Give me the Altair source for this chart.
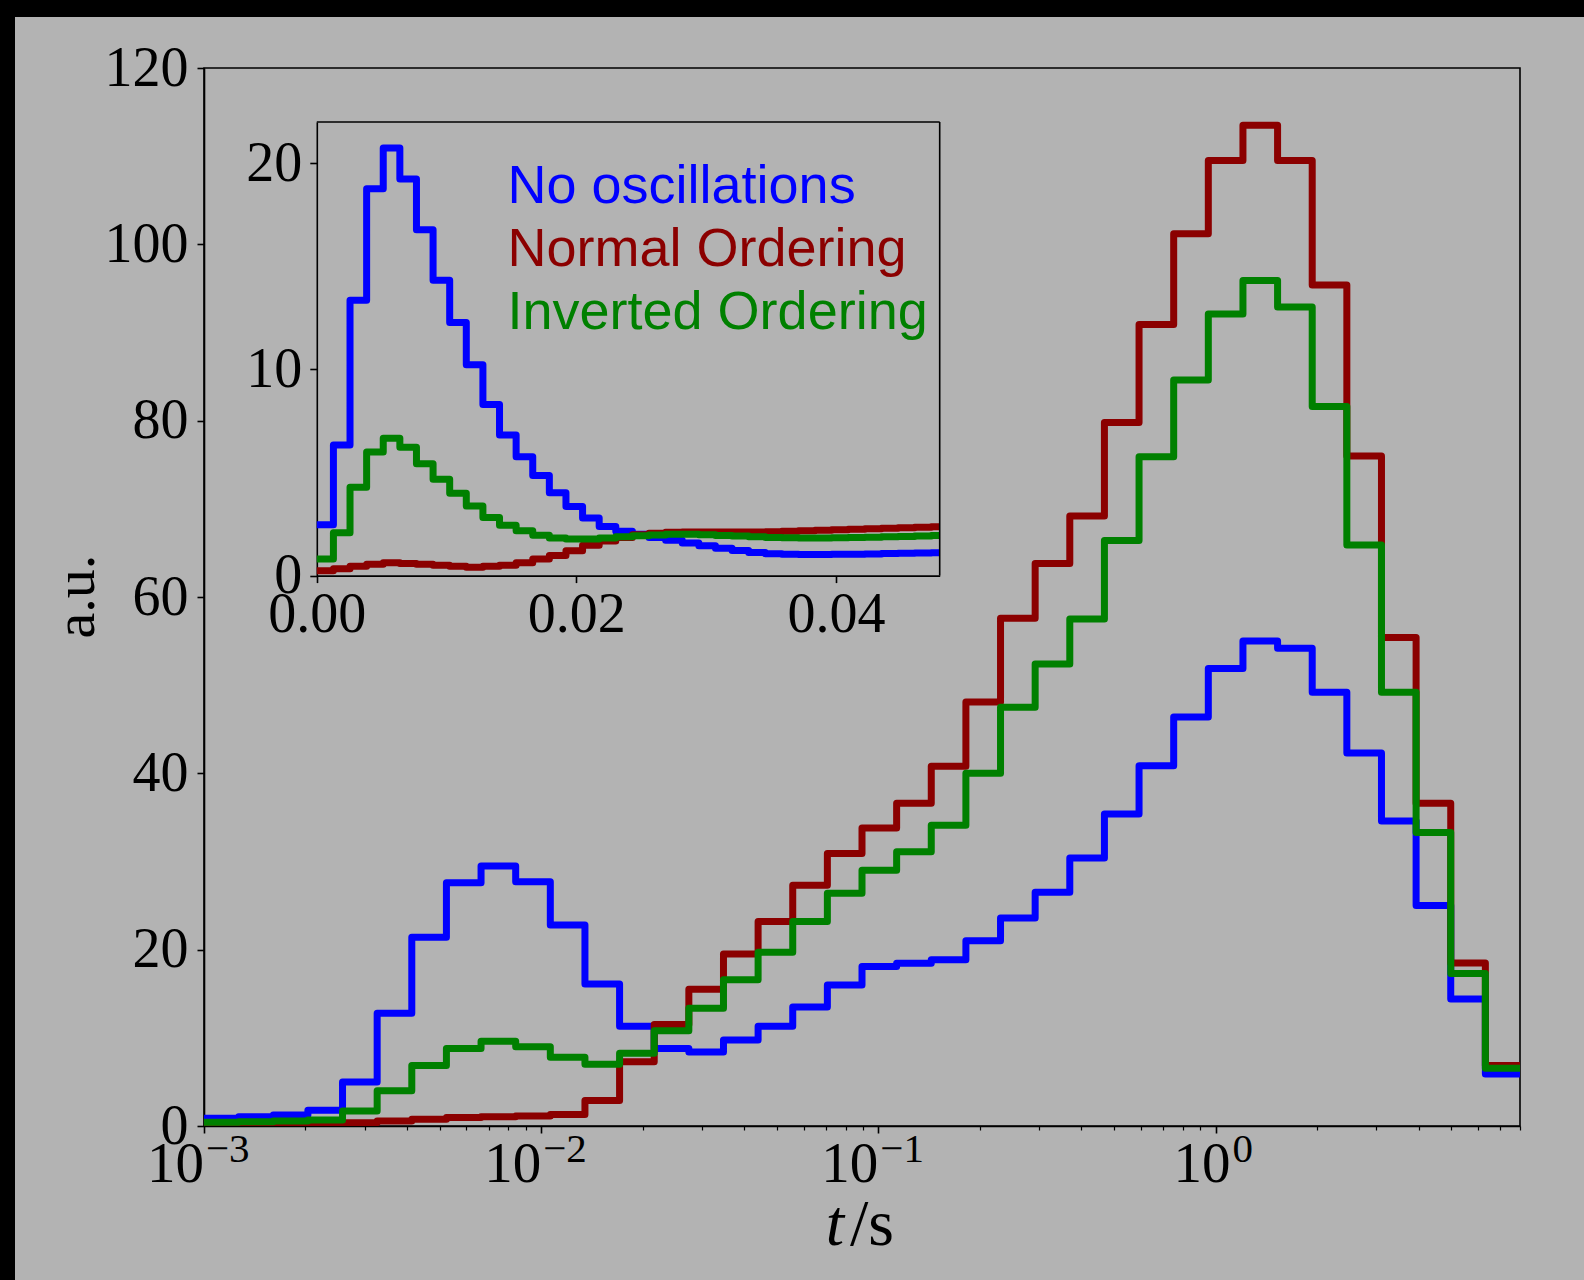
import numpy as np
import pandas as pd
import altair as alt

# ---------------- data ----------------
SERIES = ["No oscillations", "Normal Ordering", "Inverted Ordering"]
COLORS = ["#0000ff", "#8b0000", "#008000"]

# main panel: 38 log-spaced bins between 1e-3 s and 8 s
T_MIN, T_MAX = 1e-3, 8.0
N_MAIN = 38
main_no_osc = [0.87, 1.06, 1.25, 1.8, 5.0, 12.8, 21.4, 27.6, 29.5, 27.7, 22.8, 16.1,
               11.3, 8.8, 8.4, 9.75, 11.3, 13.5, 16.0, 18.1, 18.45, 18.85, 21.0, 23.6,
               26.5, 30.4, 35.4, 40.85, 46.4, 51.9, 55.0, 54.2, 49.2, 42.3, 34.6, 25.0,
               14.4, 5.9]
main_normal = [0.05, 0.08, 0.12, 0.2, 0.38, 0.57, 0.76, 0.95, 1.06, 1.13, 1.3, 2.9,
               7.3, 11.5, 15.5, 19.5, 23.2, 27.3, 30.9, 33.8, 36.6, 40.8, 48.1, 57.6,
               63.8, 69.2, 79.8, 90.9, 101.2, 109.5, 113.5, 109.5, 95.4, 76.0, 55.4, 36.6,
               18.5, 6.85]
main_inverted = [0.42, 0.49, 0.57, 0.68, 1.7, 4.0, 6.85, 8.8, 9.6, 9.0, 7.8, 7.0,
                 8.25, 10.8, 13.35, 16.6, 19.7, 23.2, 26.4, 29.0, 31.1, 34.1, 40.0, 47.5,
                 52.4, 57.5, 66.4, 75.9, 84.6, 92.1, 95.9, 92.9, 81.6, 65.9, 49.2, 33.3,
                 17.3, 6.55]

# inset: linear bins of 1.28 ms, shown up to 0.048 s
INSET_BIN = 0.00128
INSET_XMAX = 0.048
INSET_YMAX = 22
inset_no_osc = [2.47, 6.34, 13.35, 18.76, 20.74, 19.24, 16.78, 14.32, 12.28, 10.23, 8.3, 6.82,
                5.76, 4.85, 4.02, 3.35, 2.79, 2.38, 2.15, 2.0, 1.85, 1.72, 1.58, 1.45,
                1.33, 1.22, 1.12, 1.06, 1.03, 1.02, 1.02, 1.03, 1.04, 1.05, 1.07, 1.08,
                1.1, 1.11]
inset_normal = [0.24, 0.33, 0.45, 0.55, 0.62, 0.59, 0.55, 0.5, 0.45, 0.41, 0.45, 0.5,
                0.62, 0.8, 0.97, 1.2, 1.47, 1.68, 1.85, 1.98, 2.06, 2.1, 2.12, 2.12,
                2.12, 2.12, 2.12, 2.13, 2.15, 2.17, 2.2, 2.22, 2.25, 2.27, 2.3, 2.32,
                2.34, 2.37]
inset_inverted = [0.81, 2.08, 4.29, 5.99, 6.66, 6.22, 5.43, 4.67, 3.99, 3.37, 2.82, 2.44,
                  2.17, 1.96, 1.82, 1.77, 1.77, 1.82, 1.88, 1.93, 1.97, 2.0, 2.0, 1.98,
                  1.95, 1.92, 1.88, 1.85, 1.83, 1.82, 1.82, 1.83, 1.85, 1.86, 1.88, 1.9,
                  1.92, 1.94]

MAJOR = [0.001, 0.01, 0.1, 1.0]
EXPONENTS = ["\u22123", "\u22122", "\u22121", "0"]
MAIN_YTICKS = [0, 20, 40, 60, 80, 100, 120]
INSET_XTICKS = [0.0, 0.02, 0.04]
INSET_YTICKS = [0, 10, 20]

# ---------------- layout ----------------
W, H = 1316, 1058          # main plot area
PX0, PY0 = 204, 68         # plot area origin on the page
FULL_W, FULL_H = 1584, 1280
IN_X0, IN_X1 = 316.8 - PX0, 939.7 - PX0
IN_YB, IN_YT = 575.6 - PY0, 122.0 - PY0
SERIF = "Liberation Serif"
SANS = "Liberation Sans"
LW = 7

main_edges = np.logspace(np.log10(T_MIN), np.log10(T_MAX), N_MAIN + 1)
inset_edges = [min(k * INSET_BIN, INSET_XMAX) for k in range(len(inset_no_osc) + 1)]


def step_frame(edges, vals, xname, yname):
    return pd.DataFrame({xname: list(edges), yname: list(vals) + [vals[-1]]})


major_test = " || ".join(f"datum.value == {m}" for m in MAJOR)
x_ticks = []
for d in range(-3, 1):
    for m in range(1, 10):
        v = round(m * 10.0 ** d, 6)
        if v <= T_MAX:
            x_ticks.append(v)

xmain = alt.X(
    "t:Q",
    scale=alt.Scale(type="log", domain=[T_MIN, T_MAX], nice=False),
    axis=alt.Axis(values=x_ticks, labels=False, title=None, grid=False,
                  tickSize={"condition": {"test": major_test, "value": 7}, "value": 4},
                  tickWidth={"condition": {"test": major_test, "value": 1.6}, "value": 1.2},
                  tickColor="black", domainColor="black", domainWidth=1.6),
)
ymain = alt.Y(
    "v:Q",
    scale=alt.Scale(domain=[0, 120], nice=False),
    axis=alt.Axis(values=MAIN_YTICKS, title="a.u.", grid=False, labelFont=SERIF,
                  labelFontSize=56, labelColor="black", labelPadding=9, tickSize=7,
                  tickWidth=1.6, tickColor="black", domainColor="black", domainWidth=1.6,
                  labelFlush=False, labelOverlap=False, titleFont=SERIF, titleFontSize=58,
                  titleFontWeight="normal", titleColor="black", titleAngle=270,
                  titleAlign="center", titleBaseline="alphabetic", titleX=-111,
                  titleY=528),
)

main_layers = []
# dark frame strips of the figure (top and left)
strip = pd.DataFrame({"k": [0]})
main_layers.append(alt.Chart(strip).mark_rect(color="black").encode(
    x=alt.value(-PX0), x2=alt.value(-PX0 + 15), y=alt.value(-PY0), y2=alt.value(FULL_H - PY0)))
main_layers.append(alt.Chart(strip).mark_rect(color="black").encode(
    x=alt.value(-PX0), x2=alt.value(FULL_W - PX0), y=alt.value(-PY0), y2=alt.value(-PY0 + 17)))

for vals, col in zip([main_no_osc, main_normal, main_inverted], COLORS):
    df = step_frame(main_edges, vals, "t", "v")
    main_layers.append(alt.Chart(df).mark_line(
        interpolate="step-after", color=col, strokeWidth=LW, strokeJoin="round", clip=True
    ).encode(x=xmain, y=ymain))

# x tick labels 10^k
neg = pd.DataFrame({"t": MAJOR[:3], "base": ["10"] * 3, "exp": EXPONENTS[:3]})
zer = pd.DataFrame({"t": MAJOR[3:], "base": ["10"], "exp": EXPONENTS[3:]})
for df, dxb, dxe in [(neg, 0, 2), (zer, 15, 17)]:
    main_layers.append(alt.Chart(df).mark_text(
        align="right", baseline="alphabetic", font=SERIF, fontSize=57, color="black", dx=dxb
    ).encode(x=alt.X("t:Q"), y=alt.value(1182 - PY0), text="base:N"))
    main_layers.append(alt.Chart(df).mark_text(
        align="left", baseline="alphabetic", font=SERIF, fontSize=41, color="black", dx=dxe
    ).encode(x=alt.X("t:Q"), y=alt.value(1162 - PY0), text="exp:N"))

# x axis title  t/s
main_layers.append(alt.Chart(strip).mark_text(
    align="right", baseline="alphabetic", font=SERIF, fontSize=66, fontStyle="italic",
    color="black", text="t").encode(x=alt.value(844 - PX0), y=alt.value(1245 - PY0)))
main_layers.append(alt.Chart(strip).mark_text(
    align="left", baseline="alphabetic", font=SERIF, fontSize=66, color="black",
    text="/s").encode(x=alt.value(850 - PX0), y=alt.value(1245 - PY0)))

# legend labels
for i, (lab, col) in enumerate(zip(SERIES, COLORS)):
    main_layers.append(alt.Chart(strip).mark_text(
        align="left", baseline="alphabetic", font=SANS, fontSize=54, color=col, text=lab
    ).encode(x=alt.value(507.5 - PX0), y=alt.value(202.6 - PY0 + i * 63.4)))

main = alt.layer(*main_layers)

# ---------------- inset ----------------
xin = alt.X(
    "ti:Q",
    scale=alt.Scale(domain=[0, INSET_XMAX], range=[IN_X0, IN_X1], nice=False, zero=False),
    axis=alt.Axis(orient="bottom", offset=IN_YB - H, values=INSET_XTICKS, format=".2f",
                  title=None, grid=False, labelFont=SERIF, labelFontSize=56,
                  labelColor="black", labelBaseline="alphabetic", labelPadding=49,
                  labelFlush=False, labelOverlap=False, tickSize=7, tickWidth=1.6,
                  tickColor="black", domainColor="black", domainWidth=1.6),
)
yin = alt.Y(
    "vi:Q",
    scale=alt.Scale(domain=[0, INSET_YMAX], range=[IN_YB, IN_YT], nice=False),
    axis=alt.Axis(orient="left", offset=-IN_X0, values=INSET_YTICKS, title=None,
                  grid=False, labelFont=SERIF, labelFontSize=56, labelColor="black",
                  labelPadding=8, labelFlush=False, labelOverlap=False, tickSize=7,
                  tickWidth=1.6, tickColor="black", domainColor="black", domainWidth=1.6),
)

inset_layers = []
for vals, col in zip([inset_no_osc, inset_normal, inset_inverted], COLORS):
    df = step_frame(inset_edges, vals, "ti", "vi")
    inset_layers.append(alt.Chart(df).mark_line(
        interpolate="step-after", color=col, strokeWidth=LW, strokeJoin="round"
    ).encode(x=xin, y=yin))

frame_top = pd.DataFrame({"ti": [0.0], "ti2": [INSET_XMAX], "vi": [INSET_YMAX]})
frame_right = pd.DataFrame({"ti": [INSET_XMAX], "vi": [0.0], "vi2": [INSET_YMAX]})
inset_layers.append(alt.Chart(frame_top).mark_rule(color="black", strokeWidth=1.6).encode(
    x=xin, x2="ti2:Q", y=yin))
inset_layers.append(alt.Chart(frame_right).mark_rule(color="black", strokeWidth=1.6).encode(
    x=xin, y=yin, y2="vi2:Q"))

inset = alt.layer(*inset_layers)

chart = alt.layer(main, inset).resolve_scale(
    x="independent", y="independent"
).properties(
    width=W, height=H,
    padding={"left": PX0, "top": PY0, "right": FULL_W - PX0 - W, "bottom": FULL_H - PY0 - H},
    autosize=alt.AutoSizeParams(type="none"),
    background="#b3b3b3",
).configure_view(stroke="black", strokeWidth=1.6)

chart.save("out.html", embed_options={"renderer": "svg", "actions": False})
